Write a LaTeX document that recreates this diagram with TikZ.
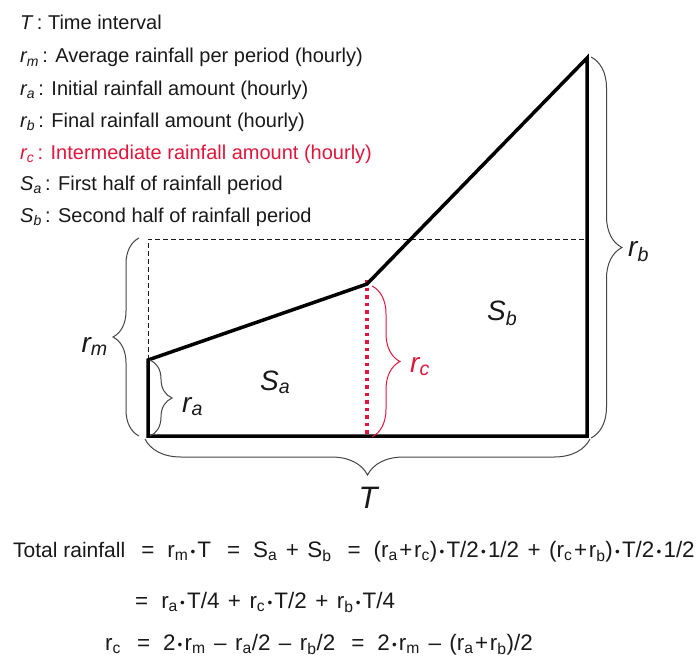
\documentclass[tikz,border=0pt]{standalone}
\usepackage{fontspec}
\setmainfont{Liberation Sans}
\usetikzlibrary{decorations.pathreplacing}
\definecolor{rcred}{RGB}{226,22,60}
\definecolor{ink}{RGB}{25,25,25}
\definecolor{bracegray}{RGB}{70,70,70}
\newcommand\lsub[1]{\textsubscript{#1}}
\newcommand\esub[1]{\textsubscript{#1}}
\newcommand\md{\hspace{2.2pt}\raisebox{1pt}{\fontsize{13.5}{13.5}\selectfont •}\hspace{2.2pt}}
\newcommand\ip{\hspace{1.6pt}+\hspace{1.6pt}}
\newcommand\op[1]{\hspace{8.5pt}#1\hspace{8.5pt}}
\newcommand\eqs{\hspace{16pt}=\hspace{13pt}}
\begin{document}
\begin{tikzpicture}[x=1pt,y=-1pt,
  legend/.style={anchor=base west, inner sep=0pt, font=\fontsize{20}{24}\selectfont, text=ink},
  lbl/.style={inner sep=0pt, font=\fontsize{28}{32}\selectfont\itshape, text=ink},
  eq/.style={anchor=base west, inner sep=0pt, font=\fontsize{22.4}{26}\selectfont, text=ink},
  outline/.style={line width=3.5pt, line join=miter, draw=black},
  guide/.style={line width=0.9pt, dash pattern=on 5pt off 3pt, draw=ink},
  bracebase/.style={decorate, line width=1pt, draw=bracegray},
  redbrace/.style={decorate, line width=1pt, draw=rcred},
  reddots/.style={line width=3.5pt, dash pattern=on 3.5pt off 4pt, draw=rcred},
]
\fill[white] (0,0) rectangle (700,661);
\useasboundingbox (0,0) rectangle (700,661);

% legend
\node[legend] (l1) at (20,30) {\textit{T}\,: Time interval};
\node[legend] (l2) at (20,63) {\textit{r\lsub{m}}\,: Average rainfall per period (hourly)};
\node[legend] (l3) at (20,95) {\textit{r\lsub{a}}\,: Initial rainfall amount (hourly)};
\node[legend] (l4) at (20,127) {\textit{r\lsub{b}}\,: Final rainfall amount (hourly)};
\node[legend, text=rcred] (l5) at (20,159) {\textit{r\lsub{c}}\,: Intermediate rainfall amount (hourly)};
\node[legend] (l6) at (20,190) {\textit{S\lsub{a}}\,: First half of rainfall period};
\node[legend] (l7) at (20,222) {\textit{S\lsub{b}}\,: Second half of rainfall period};

% geometry
\coordinate (O) at (148,436);
\coordinate (A) at (148,360);
\coordinate (C) at (367,284);
\coordinate (B) at (587,58);
\coordinate (E) at (587,436);
\coordinate (M) at (367,436);
\coordinate (D1) at (148,239);
\coordinate (D2) at (587,239);

\draw[guide] (A) -- (D1) -- (D2);
\draw[reddots] ([yshift=4pt]C) -- (M);
\draw[outline] (O) -- (A) -- (C) -- (B) -- (E) -- cycle;

% braces
\draw[bracebase, decoration={brace, amplitude=26pt}] (139,436) -- (139,238);
\draw[bracebase, decoration={brace, amplitude=22pt}] (150,360) -- (150,436);
\draw[redbrace, decoration={brace, amplitude=28pt}] (372,286) -- (372,437);
\draw[bracebase, decoration={brace, amplitude=31pt}] (591,57) -- (591,438);
\draw[bracebase, decoration={brace, amplitude=36pt}] (590,439) -- (145,439);

% labels
\node[lbl, anchor=base east] (rm) at (108,352) {r\lsub{m}};
\node[lbl, anchor=base west] (ra) at (182,412) {r\lsub{a}};
\node[lbl, anchor=base west, text=rcred] (rc) at (410,372) {r\lsub{c}};
\node[lbl, anchor=base west] (rb) at (628,256) {r\lsub{b}};
\node[lbl, anchor=base west] (Sa) at (260,390) {S\lsub{a}};
\node[lbl, anchor=base west] (Sb) at (487,320) {S\lsub{b}};
\node[lbl, anchor=base, font=\fontsize{31}{34}\selectfont\itshape] (T) at (368,508) {T};

% equations
\node[eq] (e1) at (13,557) {{\fontsize{21}{25}\selectfont Total rainfall}\eqs r\esub{m}\md T\eqs S\esub{a}\op{+}S\esub{b}\eqs (r\esub{a}\ip r\esub{c})\md T/2\md 1/2\op{+}(r\esub{c}\ip r\esub{b})\md T/2\md 1/2};
\node[eq] (e2) at (135,608) {=\hspace{13pt}r\esub{a}\md T/4\op{+}r\esub{c}\md T/2\op{+}r\esub{b}\md T/4};
\node[eq] (e3) at (105,650) {r\esub{c}\eqs 2\md r\esub{m}\op{–}r\esub{a}/2\op{–}r\esub{b}/2\eqs 2\md r\esub{m}\op{–}(r\esub{a}\ip r\esub{b})/2};
\end{tikzpicture}
\end{document}
